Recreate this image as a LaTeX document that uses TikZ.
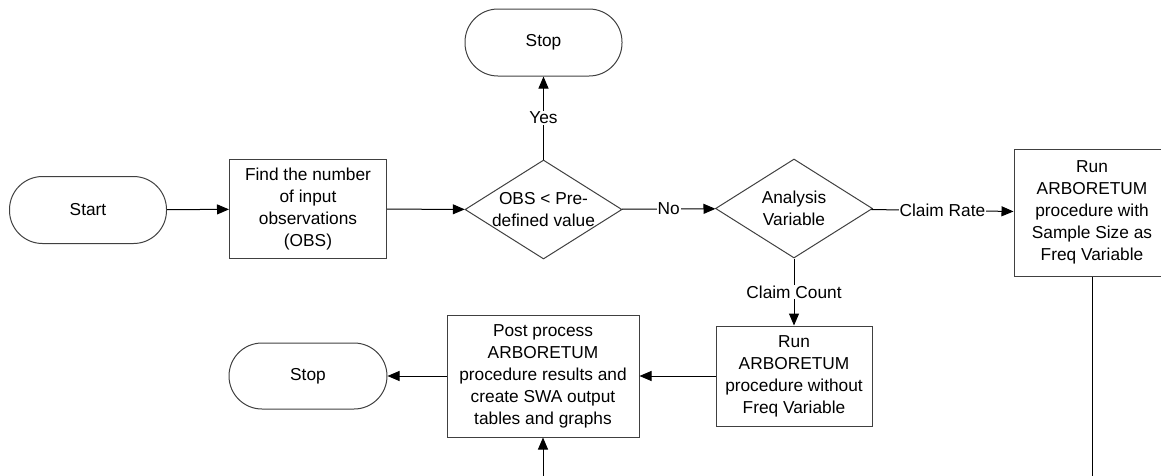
\documentclass[tikz,border=0pt]{standalone}
\usepackage{fontspec}
\setmainfont{Liberation Sans}
\usepackage{tikz}
\usetikzlibrary{shapes.geometric, arrows.meta, positioning, calc}
\definecolor{boxgray}{RGB}{64, 64, 64}
\newcommand{\flowfont}{\fontsize{17.3}{22}\selectfont}
\tikzstyle{terminal} = [
    rectangle,
    rounded corners=33pt,
    minimum width=157pt,
    minimum height=67pt,
    draw=boxgray,
    line width=1pt,
    font=\flowfont
]
\tikzstyle{process} = [
    rectangle,
    minimum width=157pt,
    minimum height=99pt,
    inner sep=2pt,
    align=center,
    draw=boxgray,
    line width=1pt,
    font=\flowfont
]
\tikzstyle{decision} = [
    diamond,
    minimum width=157pt,
    minimum height=99pt,
    inner sep=0pt,
    draw=boxgray,
    line width=1pt
]
\tikzstyle{arrow} = [
    line width=1pt,
    -{Triangle[length=12pt, width=10pt]},
    color=black
]
\tikzstyle{answer} = [
    fill=white,
    inner sep=1pt,
    font=\flowfont
]

\begin{document}
\begin{tikzpicture}[x=1pt, y=-1pt]
        \useasboundingbox (0,0) rectangle (1161,475);
        \clip (0,0) rectangle (1161,475);

        % Top row
        \node[terminal] (start) at (88,210) {Start};
        \node[process] (count) at (308,209) {Find the number\\of input\\observations\\(OBS)};
        \node[decision] (obs) at (543.5,209.5) {};
        \node[align=center, font=\flowfont] (obstext) at (obs) {OBS < Pre-\\defined value};
        \node[terminal] (stoptop) at (543.5,42.5) {Stop};
        \node[decision] (var) at (794,208.5) {};
        \node[align=center, font=\flowfont] (vartext) at (var) {Analysis\\Variable};
        \node[process, minimum width=156pt, minimum height=127pt] (rate) at (1092,212.5) {Run\\ARBORETUM\\procedure with\\Sample Size as\\Freq Variable};

        % Bottom row
        \node[process, minimum width=156pt, minimum height=100pt] (nofreq) at (794,376) {Run\\ARBORETUM\\procedure without\\Freq Variable};
        \node[process, minimum width=192pt, minimum height=122pt] (post) at (543,376) {Post process\\ARBORETUM\\procedure results and\\create SWA output\\tables and graphs};
        \node[terminal, minimum width=158pt, minimum height=66pt] (stopbot) at (308,376) {Stop};

        % Arrows
        \draw[arrow] (start) -- (count);
        \draw[arrow] (count) -- (obs);
        \draw[arrow] (obs) -- node[answer]{Yes} (stoptop);
        \draw[arrow] (obs) -- node[answer]{No} (var);
        \draw[arrow] (var) -- node[answer]{Claim Rate} (rate);
        \draw[arrow] (var) -- node[answer]{Claim Count} (nofreq);
        \draw[arrow] (nofreq) -- (post);
        \draw[arrow] (post) -- (stopbot);
        \coordinate (loop) at (543,500);
        \draw[arrow] (rate.south) |- (loop) -- (post.south);
    \end{tikzpicture}
\end{document}
